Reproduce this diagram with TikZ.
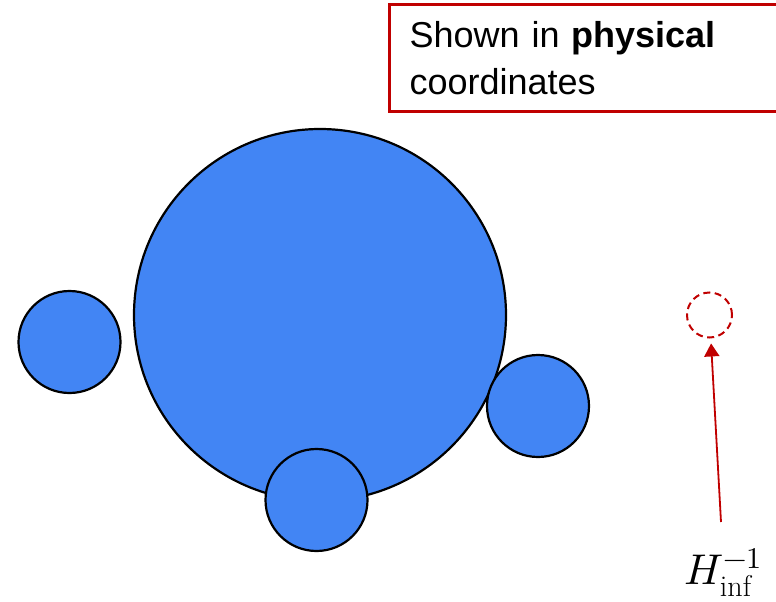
\documentclass[tikz,border=0pt]{standalone}
\usepackage{fontspec}
\setmainfont{Liberation Sans}
\usepackage{unicode-math}
\setmathfont{Latin Modern Math}
\setmathrm{Latin Modern Roman}
\usetikzlibrary{arrows.meta}
\definecolor{gblue}{HTML}{4285F4}
\definecolor{dred}{HTML}{C00000}
\tikzset{
  disc/.style={circle, draw=black, line width=2.2pt, fill=gblue, inner sep=0pt},
  ghost/.style={circle, draw=dred, dash pattern=on 7pt off 4.5pt, line width=2pt, inner sep=0pt, minimum size=45pt},
  mapping/.style={draw=dred, line width=1.8pt, -{Triangle[length=13pt,width=15pt]}, shorten >=5pt},
  notebox/.style={draw=dred, line width=3pt, anchor=north west, minimum width=400pt, minimum height=107pt,
    inner xsep=20pt, text width=360pt, align=left, font=\fontsize{36}{47}\selectfont}
}
\begin{document}
\begin{tikzpicture}[x=1pt,y=-1pt]
\useasboundingbox (0,0) rectangle (776,602);
\clip (0,0) rectangle (776,602);
\node[disc, minimum size=372pt] (big) at (320,315) {};
\node[disc, minimum size=102pt] (left) at (69.5,342) {};
\node[disc, minimum size=102pt] (right) at (538,406) {};
\node[disc, minimum size=102pt] (bottom) at (316.5,500) {};
\node[ghost] (ghost) at (709.5,315) {};
\coordinate (start) at (721,522);
\draw[mapping] (start) -- (ghost);
\node[anchor=base west, inner sep=0pt, font=\fontsize{43}{50}\selectfont] (lab) at (684,584) {$H_{\mathrm{inf}}^{-1}$};
\node[notebox] (box) at (388,3) {Shown in \textbf{physical}\\coordinates};
\end{tikzpicture}
\end{document}
